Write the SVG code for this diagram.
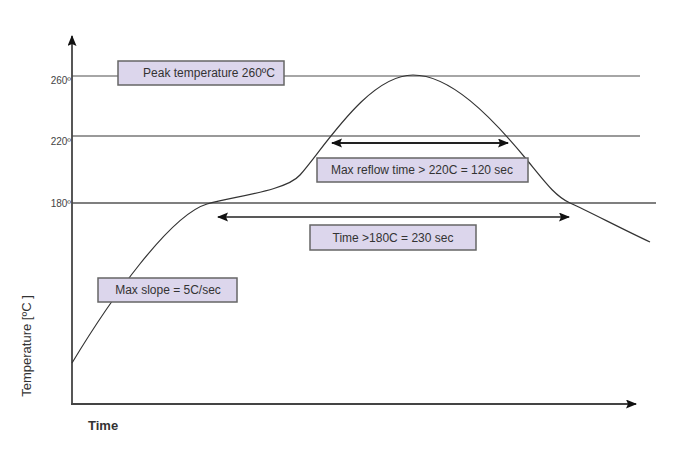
<svg xmlns="http://www.w3.org/2000/svg" width="694" height="464" viewBox="0 0 694 464">
  <style>
    .lbl { font-family: "Liberation Sans", Arial, sans-serif; fill: #333; }
    .box { fill: #dcd6ec; stroke: #666; stroke-width: 1.5; }
    .grid { stroke: #777; stroke-width: 1.5; fill: none; }
    .axis { stroke: #444; stroke-width: 1.8; fill: none; }
    .tick { font-family: "Liberation Sans", Arial, sans-serif; fill: #444; font-size: 10px; text-anchor: end; }
    .curve { stroke: #333; stroke-width: 1.2; fill: none; }
    .arr { stroke: #222; fill: none; }
  </style>
  <defs>
    <marker id="ah" markerUnits="userSpaceOnUse" markerWidth="12" markerHeight="10" refX="10" refY="4.5" orient="auto-start-reverse">
      <path d="M0,0 L11,4.5 L0,9 L2,4.5 Z" fill="#111"/>
    </marker>
  </defs>
  <rect width="694" height="464" fill="#fff"/>

  <!-- grid lines -->
  <g id="grid">
    <line class="grid" x1="72" y1="76" x2="640" y2="76" style="stroke:#888"/>
    <line class="grid" x1="72" y1="136" x2="640" y2="136"/>
    <line class="grid" x1="72" y1="203" x2="656" y2="203" style="stroke:#555"/>
    <text class="tick" x="71" y="84">260º</text>
    <text class="tick" x="71" y="145">220º</text>
    <text class="tick" x="71" y="207">180º</text>
  </g>

  <!-- axes -->
  <g id="axes">
    <line class="axis" x1="72" y1="405" x2="72" y2="36" marker-end="url(#ah)"/>
    <line class="axis" x1="71" y1="404" x2="636" y2="404" marker-end="url(#ah)"/>
    <text class="lbl" font-size="13" x="0" y="0" text-anchor="middle" transform="translate(31,346) rotate(-90)">Temperature [ºC ]</text>
    <text class="lbl" font-size="13" font-weight="bold" x="88" y="430">Time</text>
  </g>

  <!-- profile curve -->
  <path class="curve" d="M72,363 C110,300 170,215 207,204 C235,196 286,191 300,175 C324,148 368,75 413,75 C450,75 490,115 527,160 C545,182 555,196 570,203 C590,212 620,228 650,242"/>

  <!-- connectors -->
  <g id="connectors">
    <line class="arr" x1="332" y1="143" x2="508" y2="143" stroke-width="2" marker-start="url(#ah)" marker-end="url(#ah)"/>
    <line class="arr" x1="218" y1="217" x2="569" y2="217" stroke-width="1.5" marker-start="url(#ah)" marker-end="url(#ah)"/>
  </g>

  <!-- nodes -->
  <g id="peak">
    <rect class="box" x="118" y="61" width="166" height="24"/>
    <text class="lbl" font-size="12" x="209" y="77" text-anchor="middle">Peak temperature 260ºC</text>
  </g>
  <g id="reflow">
    <rect class="box" x="317" y="158" width="211" height="24"/>
    <text class="lbl" font-size="12" x="422" y="174" text-anchor="middle">Max reflow time &gt; 220C = 120 sec</text>
  </g>
  <g id="time180">
    <rect class="box" x="310" y="225" width="166" height="25"/>
    <text class="lbl" font-size="12" x="393" y="242" text-anchor="middle">Time &gt;180C = 230 sec</text>
  </g>
  <g id="slope">
    <rect class="box" x="98" y="278" width="139" height="24"/>
    <text class="lbl" font-size="12" x="168" y="294" text-anchor="middle">Max slope = 5C/sec</text>
  </g>
</svg>
